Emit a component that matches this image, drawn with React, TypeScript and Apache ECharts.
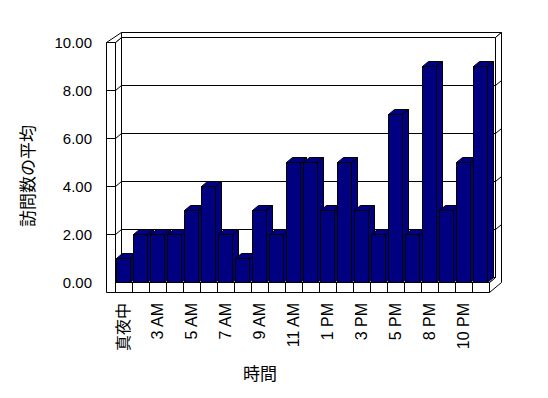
import React, { useEffect, useRef } from "react";
import * as echarts from "echarts";

const categories = [
  "真夜中", "1 AM", "3 AM", "4 AM", "5 AM", "6 AM", "7 AM", "8 AM", "9 AM", "10 AM", "11 AM",
  "正午", "1 PM", "2 PM", "3 PM", "4 PM", "5 PM", "6 PM", "8 PM", "9 PM", "10 PM", "11 PM",
];
const visits = [1, 2, 2, 2, 3, 4, 2, 1, 3, 2, 5, 5, 3, 5, 3, 2, 7, 2, 9, 3, 5, 9];
const yTicks = [0, 2, 4, 6, 8, 10];
const yAxisName = "訪問数の平均";
const xAxisName = "時間";

const DX = 6;
const DY = -5;
const WALL_T = 8.5;
const FLOOR_T = 10;
const BAR_FILL = "#000080";
const LINE = "#000000";
const FONT = "'Liberation Sans', 'Noto Sans CJK JP', sans-serif";

const snap = (v: number) => Math.round(v - 0.5) + 0.5;
const sp = (pts: number[][]) => pts.map((p) => [snap(p[0]), snap(p[1])]);

export default function App() {
  const ref = useRef<HTMLDivElement>(null);
  useEffect(() => {
    if (!ref.current) return;
    const chart = echarts.init(ref.current, null, { renderer: "svg" });
    const yMax = yTicks[yTicks.length - 1];
    const st = (fill: string) => ({ fill, stroke: LINE, lineWidth: 1 });

    const frameRender = (params: any, api: any) => {
      const bw = api.size([1, 0])[0];
      const xL = api.coord([0, 0])[0] - bw / 2;
      const xR = xL + bw * categories.length;
      const yB = api.coord([0, 0])[1];
      const yT = api.coord([0, yMax])[1];
      const children: any[] = [];
      const poly = (pts: number[][], fill = "#ffffff") =>
        children.push({ type: "polygon", shape: { points: sp(pts) }, style: st(fill) });
      const line = (x1: number, y1: number, x2: number, y2: number) =>
        children.push({
          type: "line",
          shape: { x1: snap(x1), y1: snap(y1), x2: snap(x2), y2: snap(y2) },
          style: { stroke: LINE, lineWidth: 1 },
        });
      // back wall top face
      poly([[xL + DX, yT + DY], [xR + DX, yT + DY], [xR + 2 * DX, yT + 2 * DY], [xL + DX, yT + 2 * DY]]);
      // right side (back wall thickness + floor thickness)
      poly([
        [xR + DX, yT + DY], [xR + 2 * DX, yT + 2 * DY], [xR + 2 * DX, yB + FLOOR_T + 2 * DY],
        [xR, yB + FLOOR_T], [xR, yB], [xR + DX, yB + DY],
      ]);
      // back wall inner face
      poly([[xL + DX, yT + DY], [xR + DX, yT + DY], [xR + DX, yB + DY], [xL + DX, yB + DY]]);
      // left wall inner face
      poly([[xL, yT], [xL + DX, yT + DY], [xL + DX, yB + DY], [xL, yB]]);
      // floor top face
      poly([[xL, yB], [xR, yB], [xR + DX, yB + DY], [xL + DX, yB + DY]]);
      // left wall top face
      poly([[xL - WALL_T, yT], [xL, yT], [xL + DX, yT + DY], [xL + DX, yT + 2 * DY]]);
      // left wall front face
      poly([[xL - WALL_T, yT], [xL, yT], [xL, yB + FLOOR_T], [xL - WALL_T, yB + FLOOR_T]]);
      // floor front face
      poly([[xL, yB], [xR, yB], [xR, yB + FLOOR_T], [xL, yB + FLOOR_T]]);
      for (let k = 1; k < categories.length; k++) {
        const x = xL + k * bw;
        line(x, yB, x, yB + FLOOR_T);
      }
      // gridlines
      yTicks.forEach((v) => {
        if (v === 0 || v === yMax) return;
        const y = api.coord([0, v])[1];
        line(xL - WALL_T, y, xL, y);
        line(xL, y, xL + DX, y + DY);
        line(xL + DX, y + DY, xR + DX, y + DY);
        line(xR + DX, y + DY, xR + 2 * DX, y + 2 * DY);
      });
      return { type: "group", children };
    };

    const barRender = (params: any, api: any) => {
      const i = api.value(0);
      const v = api.value(1);
      const bw = api.size([1, 0])[0];
      const w = bw * 0.8;
      const c = api.coord([i, v]);
      const c0 = api.coord([i, 0]);
      const x0 = c[0] - w / 2;
      const x1 = c[0] + w / 2;
      const yv = c[1];
      const y0 = c0[1];
      return {
        type: "group",
        children: [
          { type: "polygon", shape: { points: sp([[x1, yv], [x1 + DX, yv + DY], [x1 + DX, y0 + DY], [x1, y0]]) }, style: st(BAR_FILL) },
          { type: "polygon", shape: { points: sp([[x0, yv], [x1, yv], [x1 + DX, yv + DY], [x0 + DX, yv + DY]]) }, style: st(BAR_FILL) },
          { type: "polygon", shape: { points: sp([[x0, yv], [x1, yv], [x1, y0], [x0, y0]]) }, style: st(BAR_FILL) },
        ],
      };
    };

    chart.setOption({
      animation: false,
      backgroundColor: "#ffffff",
      grid: { left: 115, right: 59, top: 42, bottom: 116 },
      xAxis: {
        type: "category",
        data: categories,
        axisLine: { show: false },
        axisTick: { show: false },
        splitLine: { show: false },
        axisLabel: {
          interval: 1,
          rotate: 90,
          margin: 21,
          fontSize: 16,
          color: "#000",
          fontFamily: FONT,
        },
      },
      yAxis: {
        type: "value",
        min: 0,
        max: yMax,
        interval: 2,
        axisLine: { show: false },
        axisTick: { show: false },
        splitLine: { show: false },
        axisLabel: {
          margin: 23,
          fontSize: 15,
          color: "#000",
          fontFamily: FONT,
          formatter: (val: number) => val.toFixed(2),
        },
      },
      graphic: [
        {
          type: "text",
          x: 28,
          y: 176,
          rotation: Math.PI / 2,
          style: { text: yAxisName, fontSize: 17, fill: "#000", align: "center", verticalAlign: "middle", fontFamily: FONT },
        },
        {
          type: "text",
          x: 260,
          y: 374,
          style: { text: xAxisName, fontSize: 17, fill: "#000", align: "center", verticalAlign: "middle", fontFamily: FONT },
        },
      ],
      series: [
        {
          type: "custom",
          z: 1,
          silent: true,
          data: [[0, 0]],
          encode: { x: 0, y: 1 },
          renderItem: frameRender,
        },
        {
          type: "custom",
          z: 2,
          data: visits.map((v, i) => [i, v]),
          encode: { x: 0, y: 1 },
          renderItem: barRender,
        },
      ],
    });
    return () => chart.dispose();
  }, []);
  return <div ref={ref} style={{ position: "fixed", left: 0, top: 0, width: 548, height: 398 }} />;
}
